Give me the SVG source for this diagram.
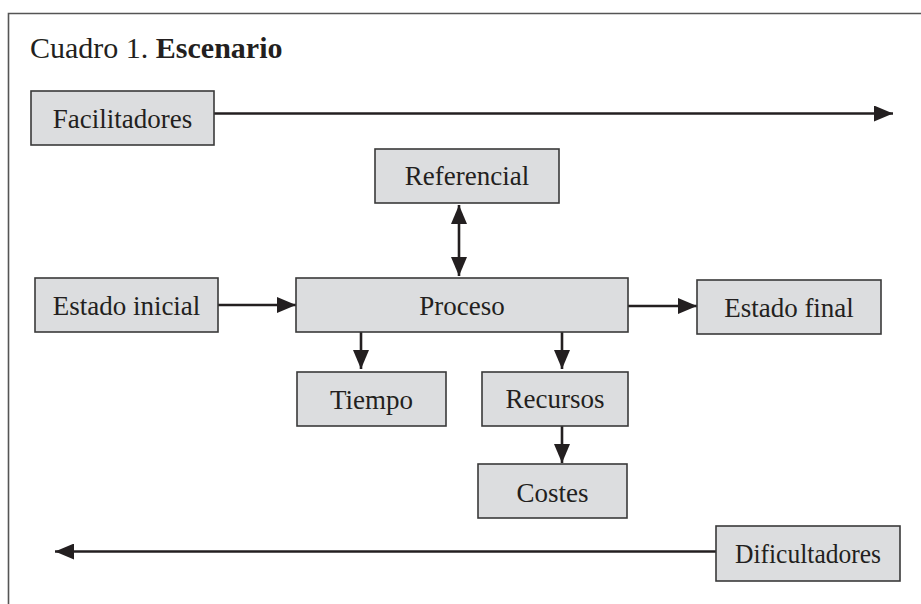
<svg xmlns="http://www.w3.org/2000/svg" width="921" height="604" viewBox="0 0 921 604">
<style>
.box{fill:#dcdddf;stroke:#3a3a3a;stroke-width:1.6}
.lbl{font-family:"Liberation Serif","Times New Roman",serif;font-size:27px;fill:#231f20;text-anchor:middle}
.title{font-family:"Liberation Serif","Times New Roman",serif;font-size:30px;fill:#231f20}
.conn{stroke:#231f20;stroke-width:2.6;fill:none}
</style>
<defs>
<marker id="ah" markerUnits="userSpaceOnUse" markerWidth="19" markerHeight="16" refX="19" refY="8" orient="auto-start-reverse" viewBox="0 0 19 16">
<path d="M0,0 L19,8 L0,16 z" fill="#231f20"/>
</marker>
</defs>
<rect width="921" height="604" fill="#ffffff"/>
<path d="M8.5,604 L8.5,13.5 L921,13.5" fill="none" stroke="#555" stroke-width="1.6"/>
<text class="title" x="30" y="58">Cuadro 1. <tspan font-weight="bold">Escenario</tspan></text>

<g id="connectors">
<line class="conn" x1="214" y1="113.5" x2="893" y2="113.5" marker-end="url(#ah)"/>
<line class="conn" x1="459" y1="205" x2="459" y2="276" marker-start="url(#ah)" marker-end="url(#ah)"/>
<line class="conn" x1="218" y1="305" x2="296" y2="305" marker-end="url(#ah)"/>
<line class="conn" x1="628" y1="306" x2="697" y2="306" marker-end="url(#ah)"/>
<line class="conn" x1="361" y1="332" x2="361" y2="369" marker-end="url(#ah)"/>
<line class="conn" x1="562" y1="332" x2="562" y2="369" marker-end="url(#ah)"/>
<line class="conn" x1="562" y1="426" x2="562" y2="463" marker-end="url(#ah)"/>
<line class="conn" x1="716" y1="551.5" x2="55" y2="551.5" marker-end="url(#ah)"/>
</g>

<g id="facilitadores"><rect class="box" x="31" y="91" width="183" height="54"/><text class="lbl" x="122.5" y="128">Facilitadores</text></g>
<g id="referencial"><rect class="box" x="375" y="149" width="184" height="54"/><text class="lbl" x="467" y="185">Referencial</text></g>
<g id="estado-inicial"><rect class="box" x="35" y="278" width="183" height="54"/><text class="lbl" x="126.5" y="315">Estado inicial</text></g>
<g id="proceso"><rect class="box" x="296" y="278" width="332" height="54"/><text class="lbl" x="462" y="315">Proceso</text></g>
<g id="estado-final"><rect class="box" x="697" y="280" width="184" height="54"/><text class="lbl" x="789" y="317">Estado final</text></g>
<g id="tiempo"><rect class="box" x="297" y="372" width="149" height="54"/><text class="lbl" x="371.5" y="409">Tiempo</text></g>
<g id="recursos"><rect class="box" x="482" y="372" width="146" height="54"/><text class="lbl" x="555" y="408">Recursos</text></g>
<g id="costes"><rect class="box" x="478" y="464" width="149" height="54"/><text class="lbl" x="552.5" y="502">Costes</text></g>
<g id="dificultadores"><rect class="box" x="716" y="526" width="184" height="55"/><text class="lbl" x="808" y="563" textLength="146" lengthAdjust="spacingAndGlyphs">Dificultadores</text></g>
</svg>
